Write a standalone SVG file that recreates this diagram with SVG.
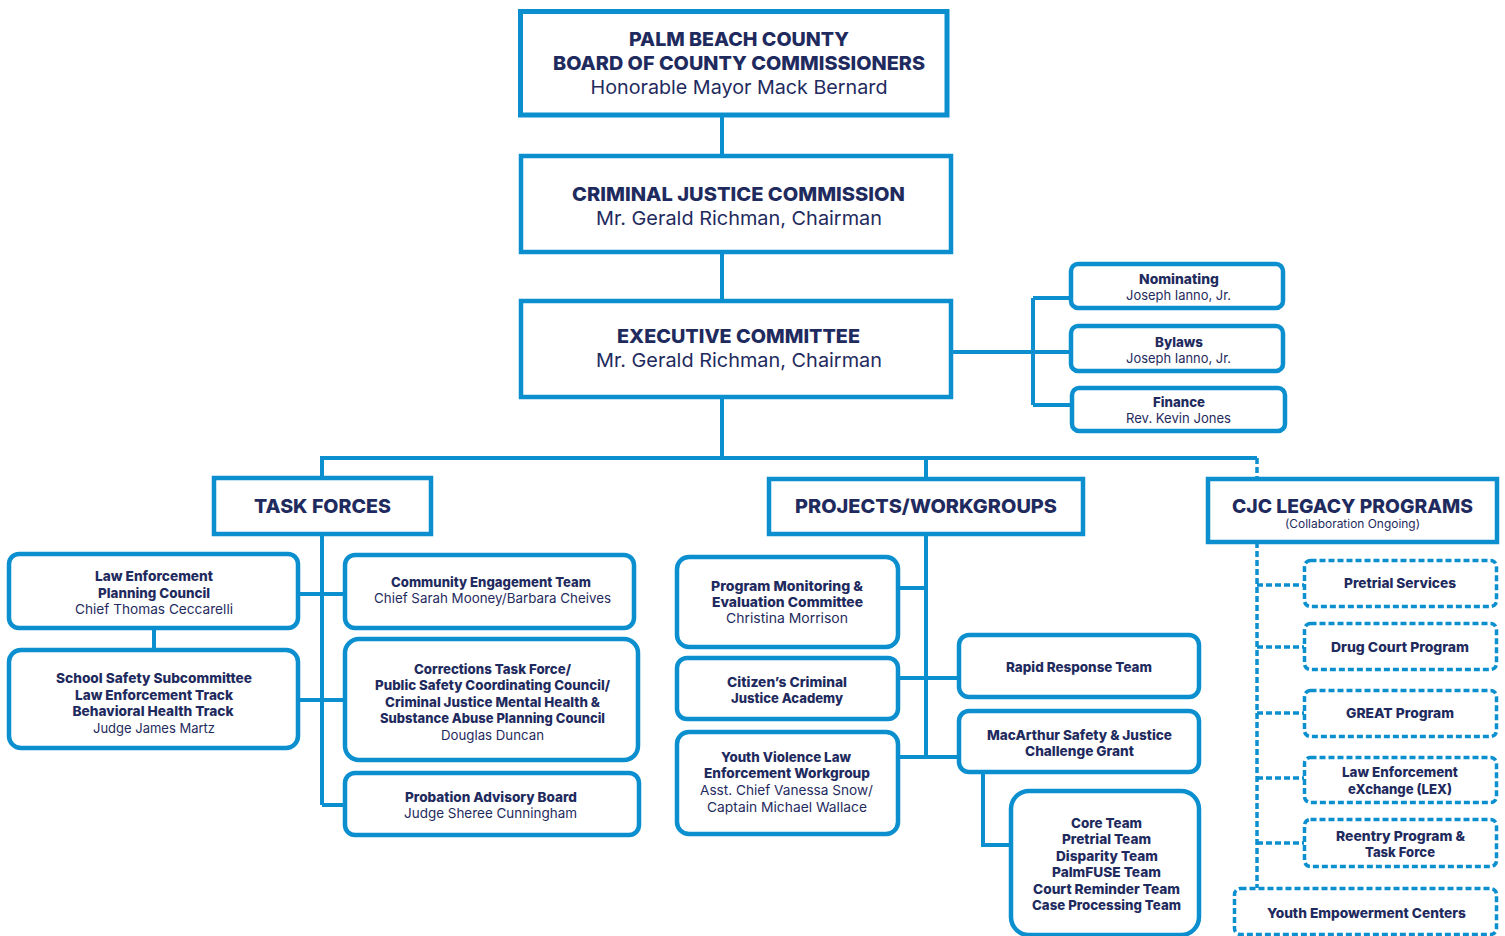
<svg xmlns="http://www.w3.org/2000/svg" width="1505" height="936" viewBox="0 0 1505 936">
<style>
.bx{fill:#fff;stroke:#0b8fcf;stroke-width:4.5}
.rb{fill:#fff;stroke:#0b8fcf;stroke-width:4.5}
.db{fill:#fff;stroke:#0b8fcf;stroke-width:3.5;stroke-dasharray:6 3}
.c{fill:none;stroke:#0b8fcf;stroke-width:4}
.dc{fill:none;stroke:#0b8fcf;stroke-width:3.5;stroke-dasharray:6 3}
text{font-family:Inter,Lato,"Liberation Sans",sans-serif;fill:#1f2b5e;text-anchor:middle}
.h{font-size:19px;font-weight:800}
.hr{font-size:19px;font-weight:400}
.b{font-size:13.5px;font-weight:800}
.r{font-size:13.5px;font-weight:400}
.s{font-size:11.5px;font-weight:400}
</style>
<g id="connectors">
<path class="c" d="M722,115V156M722,252V301M722,397V458M322,478V458H1257M926,458V479"/>
<path class="dc" d="M1257,458V479"/>
<path class="c" d="M951,352H1071M1033,298V405M1033,298H1071M1033,405H1072"/>
<path class="c" d="M322,534V805M298,594H345M298,700H345M322,805H345M154,628V650"/>
<path class="c" d="M926,534V757M898,588H926M898,678H959M898,757H959M983,772V845H1011"/>
<path class="dc" d="M1257,542V888M1257,585H1304M1257,647H1304M1257,713H1304M1257,778H1304M1257,843H1304"/>
</g>
<g id="bocc">
<rect class="bx" x="520.5" y="11.5" width="426.5" height="103.5" style="stroke-width:5"/>
<text class="h" x="739" y="46" textLength="220" lengthAdjust="spacingAndGlyphs">PALM BEACH COUNTY</text>
<text class="h" x="739" y="70" textLength="372" lengthAdjust="spacingAndGlyphs">BOARD OF COUNTY COMMISSIONERS</text>
<text class="hr" x="739" y="94" textLength="297" lengthAdjust="spacingAndGlyphs">Honorable Mayor Mack Bernard</text>
</g>
<g id="cjc">
<rect class="bx" x="521" y="156" width="430" height="96"/>
<text class="h" x="738.5" y="201" textLength="333" lengthAdjust="spacingAndGlyphs">CRIMINAL JUSTICE COMMISSION</text>
<text class="hr" x="739" y="225" textLength="286" lengthAdjust="spacingAndGlyphs">Mr. Gerald Richman, Chairman</text>
</g>
<g id="exec">
<rect class="bx" x="521" y="301" width="430" height="96"/>
<text class="h" x="738.5" y="343" textLength="243" lengthAdjust="spacingAndGlyphs">EXECUTIVE COMMITTEE</text>
<text class="hr" x="739" y="367" textLength="286" lengthAdjust="spacingAndGlyphs">Mr. Gerald Richman, Chairman</text>
</g>
<g id="nominating">
<rect class="rb" x="1071" y="264" width="212" height="44" rx="7"/>
<text class="b" x="1179" y="284" textLength="80" lengthAdjust="spacingAndGlyphs">Nominating</text>
<text class="r" x="1178.5" y="300" textLength="105" lengthAdjust="spacingAndGlyphs">Joseph Ianno, Jr.</text>
</g>
<g id="bylaws">
<rect class="rb" x="1071" y="326" width="212" height="45" rx="7"/>
<text class="b" x="1179" y="347" textLength="48" lengthAdjust="spacingAndGlyphs">Bylaws</text>
<text class="r" x="1178.5" y="363" textLength="105" lengthAdjust="spacingAndGlyphs">Joseph Ianno, Jr.</text>
</g>
<g id="finance">
<rect class="rb" x="1072" y="388" width="213" height="43" rx="7"/>
<text class="b" x="1179" y="407" textLength="52" lengthAdjust="spacingAndGlyphs">Finance</text>
<text class="r" x="1178.5" y="423" textLength="105" lengthAdjust="spacingAndGlyphs">Rev. Kevin Jones</text>
</g>
<g id="task-forces">
<rect class="bx" x="214" y="478" width="217" height="56"/>
<text class="h" x="322.5" y="513" textLength="137" lengthAdjust="spacingAndGlyphs">TASK FORCES</text>
</g>
<g id="projects">
<rect class="bx" x="769" y="479" width="314" height="55"/>
<text class="h" x="926" y="513" textLength="262" lengthAdjust="spacingAndGlyphs">PROJECTS/WORKGROUPS</text>
</g>
<g id="legacy">
<rect class="bx" x="1208" y="479" width="289" height="63"/>
<text class="h" x="1352.5" y="513" textLength="241" lengthAdjust="spacingAndGlyphs">CJC LEGACY PROGRAMS</text>
<text class="s" x="1352.5" y="528" textLength="135" lengthAdjust="spacingAndGlyphs">(Collaboration Ongoing)</text>
</g>
<g id="le-planning">
<rect class="rb" x="9" y="554" width="289" height="74" rx="10"/>
<text class="b" x="154" y="581" textLength="118" lengthAdjust="spacingAndGlyphs">Law Enforcement</text>
<text class="b" x="154" y="598" textLength="112" lengthAdjust="spacingAndGlyphs">Planning Council</text>
<text class="r" x="154" y="614" textLength="158" lengthAdjust="spacingAndGlyphs">Chief Thomas Ceccarelli</text>
</g>
<g id="school-safety">
<rect class="rb" x="9" y="650" width="289" height="98" rx="12"/>
<text class="b" x="154" y="683" textLength="196" lengthAdjust="spacingAndGlyphs">School Safety Subcommittee</text>
<text class="b" x="154" y="700" textLength="158" lengthAdjust="spacingAndGlyphs">Law Enforcement Track</text>
<text class="b" x="153" y="716" textLength="161" lengthAdjust="spacingAndGlyphs">Behavioral Health Track</text>
<text class="r" x="154" y="733" textLength="122" lengthAdjust="spacingAndGlyphs">Judge James Martz</text>
</g>
<g id="community">
<rect class="rb" x="345" y="555" width="289" height="73" rx="10"/>
<text class="b" x="491" y="587" textLength="200" lengthAdjust="spacingAndGlyphs">Community Engagement Team</text>
<text class="r" x="492.5" y="603" textLength="237" lengthAdjust="spacingAndGlyphs">Chief Sarah Mooney/Barbara Cheives</text>
</g>
<g id="corrections">
<rect class="rb" x="345" y="639" width="293" height="121" rx="14"/>
<text class="b" x="492.5" y="674" textLength="157" lengthAdjust="spacingAndGlyphs">Corrections Task Force/</text>
<text class="b" x="492.5" y="690" textLength="235" lengthAdjust="spacingAndGlyphs">Public Safety Coordinating Council/</text>
<text class="b" x="492.5" y="707" textLength="215" lengthAdjust="spacingAndGlyphs">Criminal Justice Mental Health &amp;</text>
<text class="b" x="492.5" y="723" textLength="225" lengthAdjust="spacingAndGlyphs">Substance Abuse Planning Council</text>
<text class="r" x="492.5" y="740" textLength="103" lengthAdjust="spacingAndGlyphs">Douglas Duncan</text>
</g>
<g id="probation">
<rect class="rb" x="345" y="773" width="294" height="62" rx="10"/>
<text class="b" x="491" y="802" textLength="172" lengthAdjust="spacingAndGlyphs">Probation Advisory Board</text>
<text class="r" x="490.5" y="818" textLength="173" lengthAdjust="spacingAndGlyphs">Judge Sheree Cunningham</text>
</g>
<g id="program-monitoring">
<rect class="rb" x="677" y="557" width="221" height="90" rx="12"/>
<text class="b" x="787" y="591" textLength="152" lengthAdjust="spacingAndGlyphs">Program Monitoring &amp;</text>
<text class="b" x="787.5" y="607" textLength="151" lengthAdjust="spacingAndGlyphs">Evaluation Committee</text>
<text class="r" x="787" y="623" textLength="122" lengthAdjust="spacingAndGlyphs">Christina Morrison</text>
</g>
<g id="citizens">
<rect class="rb" x="677" y="658" width="221" height="61" rx="10"/>
<text class="b" x="787" y="687" textLength="120" lengthAdjust="spacingAndGlyphs">Citizen’s Criminal</text>
<text class="b" x="787" y="703" textLength="112" lengthAdjust="spacingAndGlyphs">Justice Academy</text>
</g>
<g id="youth-violence">
<rect class="rb" x="677" y="732" width="221" height="102" rx="12"/>
<text class="b" x="786" y="762" textLength="130" lengthAdjust="spacingAndGlyphs">Youth Violence Law</text>
<text class="b" x="787" y="778" textLength="166" lengthAdjust="spacingAndGlyphs">Enforcement Workgroup</text>
<text class="r" x="786.5" y="795" textLength="173" lengthAdjust="spacingAndGlyphs">Asst. Chief Vanessa Snow/</text>
<text class="r" x="787" y="812" textLength="160" lengthAdjust="spacingAndGlyphs">Captain Michael Wallace</text>
</g>
<g id="rapid-response">
<rect class="rb" x="959" y="635" width="240" height="62" rx="10"/>
<text class="b" x="1079" y="672" textLength="146" lengthAdjust="spacingAndGlyphs">Rapid Response Team</text>
</g>
<g id="macarthur">
<rect class="rb" x="959" y="711" width="240" height="61" rx="10"/>
<text class="b" x="1079.5" y="740" textLength="185" lengthAdjust="spacingAndGlyphs">MacArthur Safety &amp; Justice</text>
<text class="b" x="1079.5" y="756" textLength="109" lengthAdjust="spacingAndGlyphs">Challenge Grant</text>
</g>
<g id="macarthur-teams">
<rect class="rb" x="1011" y="791" width="188" height="144" rx="18"/>
<text class="b" x="1106.5" y="828" textLength="71" lengthAdjust="spacingAndGlyphs">Core Team</text>
<text class="b" x="1106.5" y="844" textLength="89" lengthAdjust="spacingAndGlyphs">Pretrial Team</text>
<text class="b" x="1107" y="861" textLength="102" lengthAdjust="spacingAndGlyphs">Disparity Team</text>
<text class="b" x="1106.5" y="877" textLength="109" lengthAdjust="spacingAndGlyphs">PalmFUSE Team</text>
<text class="b" x="1106.5" y="894" textLength="147" lengthAdjust="spacingAndGlyphs">Court Reminder Team</text>
<text class="b" x="1106.5" y="910" textLength="149" lengthAdjust="spacingAndGlyphs">Case Processing Team</text>
</g>
<g id="pretrial-services">
<rect class="db" x="1304.5" y="560.5" width="192" height="46" rx="6"/>
<text class="b" x="1400" y="588" textLength="112" lengthAdjust="spacingAndGlyphs">Pretrial Services</text>
</g>
<g id="drug-court">
<rect class="db" x="1304.5" y="623.5" width="192" height="46" rx="6"/>
<text class="b" x="1400" y="652" textLength="138" lengthAdjust="spacingAndGlyphs">Drug Court Program</text>
</g>
<g id="great">
<rect class="db" x="1304.5" y="690.5" width="192" height="46" rx="6"/>
<text class="b" x="1400" y="718" textLength="108" lengthAdjust="spacingAndGlyphs">GREAT Program</text>
</g>
<g id="lex">
<rect class="db" x="1304.5" y="757.5" width="192" height="45" rx="6"/>
<text class="b" x="1400" y="777" textLength="116" lengthAdjust="spacingAndGlyphs">Law Enforcement</text>
<text class="b" x="1400" y="794" textLength="104" lengthAdjust="spacingAndGlyphs">eXchange (LEX)</text>
</g>
<g id="reentry">
<rect class="db" x="1304.5" y="819.5" width="192" height="47" rx="6"/>
<text class="b" x="1400.5" y="841" textLength="129" lengthAdjust="spacingAndGlyphs">Reentry Program &amp;</text>
<text class="b" x="1400" y="857" textLength="70" lengthAdjust="spacingAndGlyphs">Task Force</text>
</g>
<g id="youth-empowerment">
<rect class="db" x="1234.5" y="888.5" width="262" height="46" rx="6"/>
<text class="b" x="1366.5" y="918" textLength="199" lengthAdjust="spacingAndGlyphs">Youth Empowerment Centers</text>
</g>
</svg>
